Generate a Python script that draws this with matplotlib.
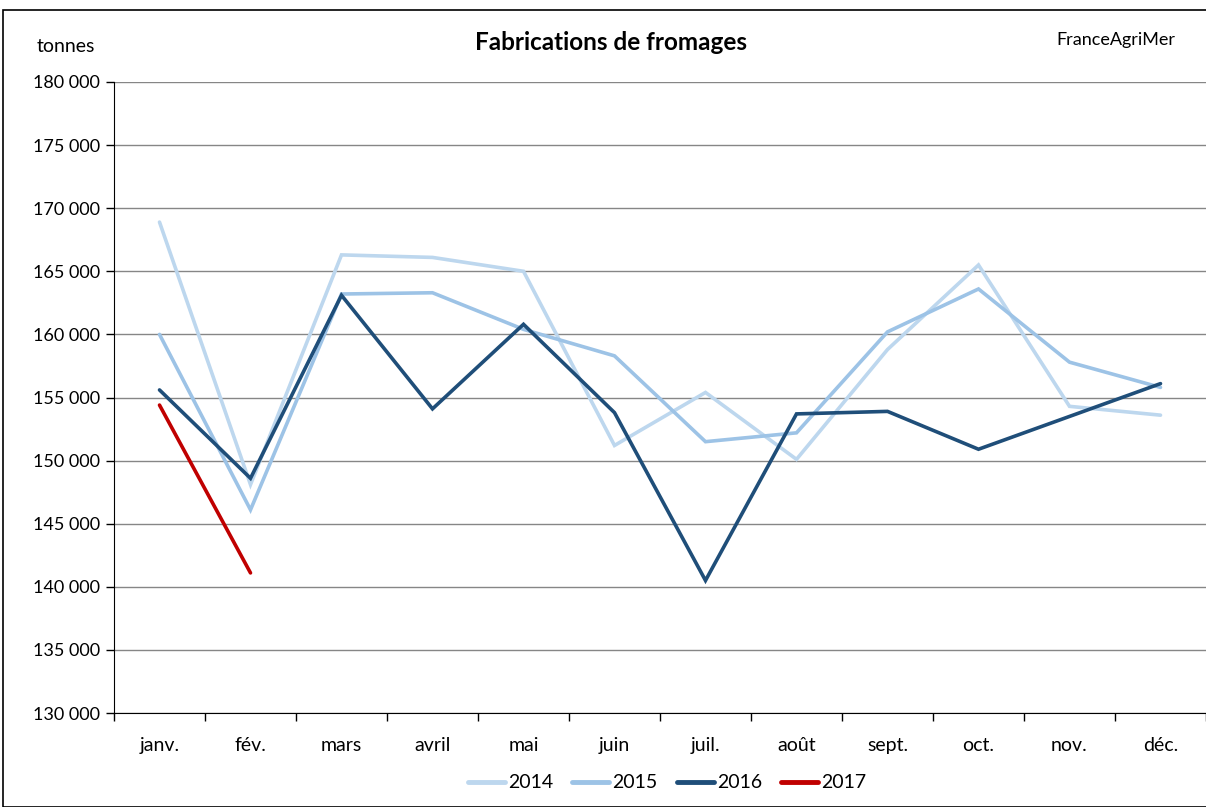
import matplotlib
matplotlib.use("Agg")
import matplotlib.pyplot as plt
from matplotlib.patches import Rectangle
from matplotlib.ticker import FuncFormatter, FixedLocator

months = ["janv.", "fév.", "mars", "avril", "mai", "juin", "juil.", "août",
          "sept.", "oct.", "nov.", "déc."]
y2014 = [168900, 148100, 166300, 166100, 165000, 151200, 155400, 150100,
         158800, 165500, 154300, 153600]
y2015 = [160000, 146100, 163200, 163300, 160400, 158300, 151500, 152200,
         160200, 163600, 157800, 155800]
y2016 = [155600, 148600, 163100, 154100, 160800, 153800, 140500, 153700,
         153900, 150900, 153500, 156100]
y2017 = [154400, 141100]

series = [("2014", y2014, "#BDD7EE"), ("2015", y2015, "#9DC3E6"),
          ("2016", y2016, "#1F4E79"), ("2017", y2017, "#C00000")]

plt.rcParams['font.family'] = ['Lato', 'DejaVu Sans']

fig = plt.figure(figsize=(12.06, 8.07), dpi=100)
fig.patches.append(Rectangle((3/1206, 0), 1.2, 1 - 10/807, transform=fig.transFigure,
                             fill=False, edgecolor="black", linewidth=1.2))

ax = fig.add_axes([114/1206, 1 - 713/807, 1 - 114/1206, (713 - 82)/807])

for name, vals, col in series:
    ax.plot(range(len(vals)), vals, color=col, linewidth=2.6, label=name,
            solid_capstyle="round", solid_joinstyle="miter")

ax.set_xlim(-0.5, 11.5)
ax.set_ylim(130000, 180000)
ax.set_yticks(range(130000, 180001, 5000))
ax.yaxis.set_major_formatter(FuncFormatter(lambda v, p: f"{int(v):,}".replace(",", " ")))
ax.grid(axis="y", color="#868686", linewidth=1.0)
ax.set_axisbelow(True)

ax.xaxis.set_major_locator(FixedLocator([i - 0.5 for i in range(13)]))
ax.xaxis.set_minor_locator(FixedLocator(list(range(12))))
ax.set_xticklabels([""] * 13)
ax.set_xticklabels(months, minor=True)
ax.tick_params(axis="x", which="major", length=6, width=1, direction="out", color="black")
ax.tick_params(axis="x", which="minor", length=0, pad=17, labelsize=14)
ax.tick_params(axis="y", length=6, width=1, direction="out", labelsize=13, pad=4)

for s in ["top", "right"]:
    ax.spines[s].set_visible(False)
ax.spines["left"].set_color("black")
ax.spines["bottom"].set_color("black")

fig.text(37/1206, 1 - 46/807, "tonnes", fontsize=14, va="center", ha="left")
fig.text(611/1206, 1 - 42/807, "Fabrications de fromages", fontsize=17.5,
         fontweight="bold", va="center", ha="center")
fig.text(1175/1206, 1 - 40/807, "FranceAgriMer", fontsize=13, va="center", ha="right")

leg = fig.legend(loc="center", bbox_to_anchor=(667/1206, 1 - 783/807), ncol=4,
                 frameon=False, fontsize=14, handlelength=1.9, handletextpad=0.15,
                 columnspacing=1.0)
for h in leg.get_lines():
    h.set_linewidth(3.5)

fig.savefig("out.png", dpi=100)
